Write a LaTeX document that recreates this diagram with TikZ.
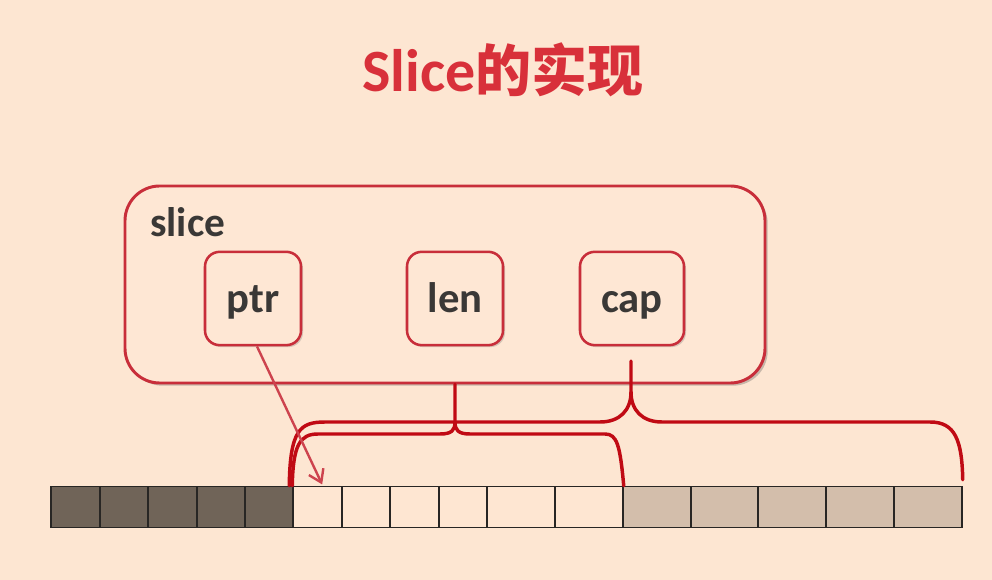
\documentclass[tikz,border=0pt]{standalone}
\usepackage{fontspec}
\setmainfont{Carlito}
\newfontfamily\cjk{Noto Sans CJK SC}
\usetikzlibrary{arrows.meta,shadows}
\definecolor{bg}{RGB}{253,230,210}
\definecolor{boxfill}{RGB}{254,231,212}
\definecolor{boxred}{RGB}{200,46,58}
\definecolor{titlered}{RGB}{216,48,58}
\definecolor{bracered}{RGB}{192,10,20}
\definecolor{txt}{RGB}{58,56,54}
\definecolor{dk}{RGB}{112,100,88}
\definecolor{tan}{RGB}{211,190,171}
\definecolor{lt}{RGB}{254,230,210}
\definecolor{cellline}{RGB}{40,38,36}
\begin{document}
\begin{tikzpicture}[x=0.75pt,y=-0.75pt,
  outerbox/.style={draw=boxred, line width=2.2pt, fill=boxfill, rounded corners=26pt,
     minimum width=480pt, minimum height=147.75pt, inner sep=0pt,
     drop shadow={shadow xshift=2pt, shadow yshift=-2pt, opacity=0.3, fill=black!70}},
  field/.style={draw=boxred, line width=1.9pt, fill=boxfill, rounded corners=11pt,
     minimum height=70pt, inner sep=0pt, text=txt,
     font=\fontsize{32}{36}\selectfont\bfseries, text height=24pt, text depth=3.5pt,
     drop shadow={shadow xshift=1.5pt, shadow yshift=-1.5pt, opacity=0.22, fill=black!70}},
  cell/.style={draw=cellline, line width=1.1pt, minimum height=30.75pt, inner sep=0pt},
  brace/.style={draw=bracered, line width=2.6pt, line cap=round, line join=round},
  ptrarrow/.style={draw=boxred!90!white, line width=1.8pt, -{Straight Barb[length=9pt,width=12pt,line width=1.8pt]}}
]
\fill[bg] (0,0) rectangle (992,580);
\useasboundingbox (0,0) rectangle (992,580);

% title
\node[anchor=base, text=titlered, font=\fontsize{45}{52}\selectfont\bfseries, inner sep=0pt] (title) at (503,92) {Slice{\cjk\fontsize{42}{50}\selectfont 的实现}};

% outer slice box
\node[outerbox] (slicebox) at (445,284.5) {};
\node[anchor=base west, inner sep=0pt, text=txt, font=\fontsize{31}{36}\selectfont\bfseries] (slicelbl) at (150,237) {slice};

% fields
\node[field, minimum width=72pt] (ptr) at (253,298.5) {ptr};
\node[field, minimum width=72pt] (len) at (455,298.5) {len};
\node[field, minimum width=78pt] (cap) at (632,298.5) {cap};

% array cells
\foreach \a/\b/\c [count=\i] in {
  51/100/dk, 100/148/dk, 148/197/dk, 197/245/dk, 245/293/dk,
  293/342/lt, 342/390/lt, 390/439/lt, 439/487/lt, 487/555/lt, 555/623/lt,
  623/691/tan, 691/758/tan, 758/826/tan, 826/894/tan, 894/962/tan}{
  \node[cell, fill=\c, minimum width={(\b-\a)*0.75pt}] (c\i) at ({(\a+\b)/2},507) {};
}

% len brace
\coordinate (lenL) at (c6.north west);
\coordinate (lenR) at (c11.north east);
\coordinate (lenTip) at (len.south |- slicebox.south);
\draw[brace] (lenL) .. controls (293,445) and (300,434) .. (318,434) -- (440,434)
   .. controls (452,434) and (455,430) .. (455,422) -- (lenTip);
\draw[brace] (455,422) .. controls (455,430) and (458,434) .. (470,434) -- (605,434)
   .. controls (617,434) and (620,445) .. (lenR);

% cap brace
\coordinate (capL) at ([xshift=-2.25pt]c6.north west);
\coordinate (capR) at ([yshift=4.5pt]c16.north east);
\coordinate (capTip) at (631,361);
\draw[brace] (capL) .. controls (290,430) and (300,422) .. (325,422) -- (600,422)
   .. controls (620,422) and (631,410) .. (631,392) -- (capTip);
\draw[brace] (631,392) .. controls (631,410) and (642,422) .. (662,422) -- (930,422)
   .. controls (955,422) and (962,440) .. (capR);

% ptr arrow
\draw[ptrarrow] ([xshift=3pt]ptr.south) -- ([xshift=3.5pt,yshift=1pt]c6.north);
\end{tikzpicture}
\end{document}
